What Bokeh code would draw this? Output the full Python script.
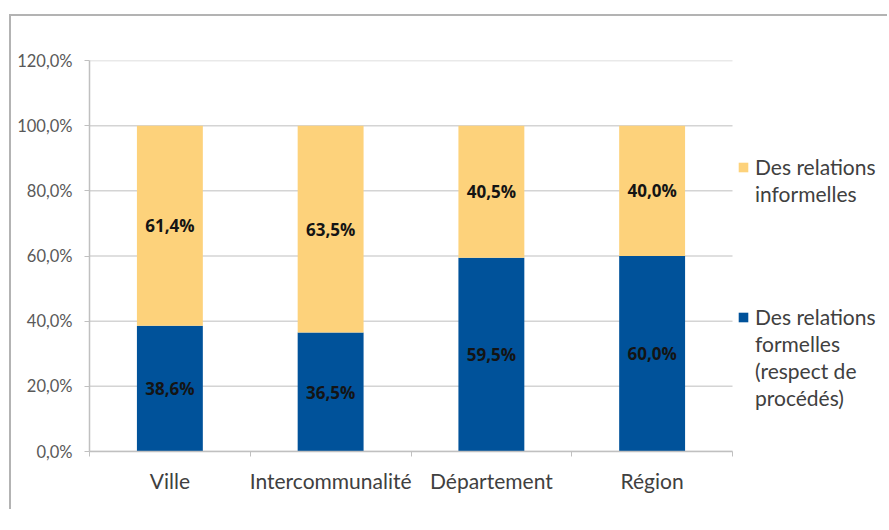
from bokeh.plotting import figure
from bokeh.models import (ColumnDataSource, FixedTicker, Legend, LegendItem, LabelSet, Range1d)
from bokeh.core.properties import value
from bokeh.embed import file_html
from bokeh.resources import INLINE

categories = ["Ville", "Intercommunalité", "Département", "Région"]
formelles = [38.6, 36.5, 59.5, 60.0]
informelles = [61.4, 63.5, 40.5, 40.0]
legend_informelles = ["Des relations", "informelles"]
legend_formelles = ["Des relations", "formelles", "(respect de", "procédés)"]
y_ticks = [0, 20, 40, 60, 80, 100, 120]

FONT = "Lato"
BOLD_FONT = "Open Sans"
BLUE = "#00529A"
YELLOW = "#FDD27B"

W, H = 878, 495
LEFT, TOP, BOTTOM = 78, 44, 60
CAT_PX = 160.75  # pixels per category slot
n = len(categories)
frame_w = W - LEFT

xs = [i + 0.5 for i in range(n)]
def fmt(v):
    return ("%.1f%%" % v).replace(".", ",")

src = ColumnDataSource(dict(
    x=xs,
    formelles=formelles,
    informelles=informelles,
    mid_f=[f / 2 for f in formelles],
    mid_i=[f + i / 2 for f, i in zip(formelles, informelles)],
    lab_f=[fmt(v) for v in formelles],
    lab_i=[fmt(v) for v in informelles],
))

p = figure(width=W, height=H, output_backend="svg", toolbar_location=None,
           x_range=Range1d(0, frame_w / CAT_PX), y_range=Range1d(0, 120),
           min_border_left=LEFT, min_border_top=TOP, min_border_right=0, min_border_bottom=BOTTOM)
p.styles = {"border-left": "2px solid #b3b3b3", "border-top": "2px solid #b3b3b3",
            "border-right": "0px none white", "border-bottom": "0px none white",
            "box-shadow": "none", "outline": "none",
            "margin-left": "9px", "margin-top": "14px"}
p.outline_line_color = None
p.border_fill_color = "white"
p.background_fill_color = "white"

# horizontal gridlines limited to the category area
p.segment(x0=[0] * len(y_ticks), x1=[n] * len(y_ticks), y0=y_ticks, y1=y_ticks,
          line_color="#d4d4d4", line_width=1.5)

r = p.vbar_stack(["formelles", "informelles"], x="x", width=0.41, source=src,
                 color=[BLUE, YELLOW], line_color=None)

for col_y, col_t in (("mid_f", "lab_f"), ("mid_i", "lab_i")):
    p.add_layout(LabelSet(x="x", y=col_y, text=col_t, source=src, text_align="center",
                          text_baseline="middle", text_font=value(BOLD_FONT),
                          text_font_style="bold", text_font_size="17px", text_color="#141414"))

# y axis
p.yaxis.ticker = FixedTicker(ticks=y_ticks)
p.yaxis.major_label_overrides = {t: fmt(t) for t in y_ticks}
p.yaxis.major_label_text_font = FONT
p.yaxis.major_label_text_font_size = "16.5px"
p.yaxis.major_label_text_color = "#595959"
p.yaxis.axis_line_color = "#c0c0c0"
p.yaxis.axis_line_width = 1.5
p.yaxis.major_tick_line_color = "#c0c0c0"
p.yaxis.major_tick_in = 0
p.yaxis.major_tick_out = 5
p.yaxis.minor_tick_line_color = None
p.yaxis.major_label_standoff = 12

# x axis
p.xaxis.bounds = (0, n)
p.xaxis.ticker = FixedTicker(ticks=xs, minor_ticks=list(range(n + 1)))
p.xaxis.major_label_overrides = {x: c for x, c in zip(xs, categories)}
p.xaxis.major_label_text_font = FONT
p.xaxis.major_label_text_font_size = "21px"
p.xaxis.major_label_text_color = "#404040"
p.xaxis.major_label_standoff = 10
p.xaxis.major_tick_line_color = None
p.xaxis.minor_tick_line_color = "#c0c0c0"
p.xaxis.minor_tick_in = 0
p.xaxis.minor_tick_out = 5
p.xaxis.axis_line_color = "#c0c0c0"
p.xaxis.axis_line_width = 1.5

p.xgrid.grid_line_color = None
p.ygrid.grid_line_color = None

# invisible renderer for continuation lines of the legend labels
blank = p.scatter(x=[], y=[], size=0, fill_alpha=0, line_alpha=0)

def make_legend(lines, renderer, loc):
    items = [LegendItem(label=lines[0], renderers=[renderer])]
    items += [LegendItem(label=t, renderers=[blank]) for t in lines[1:]]
    return Legend(items=items, location=loc, orientation="vertical",
                  label_text_font=FONT, label_text_font_size="21px", label_text_color="#404040",
                  glyph_width=12, glyph_height=12, label_height=27, spacing=0,
                  padding=0, margin=0, border_line_color=None, background_fill_alpha=0,
                  label_standoff=6)

p.add_layout(make_legend(legend_informelles, r[1], (648, 244)), "center")
p.add_layout(make_legend(legend_formelles, r[0], (648, 40)), "center")

open("out.html", "w").write(file_html(p, INLINE))
